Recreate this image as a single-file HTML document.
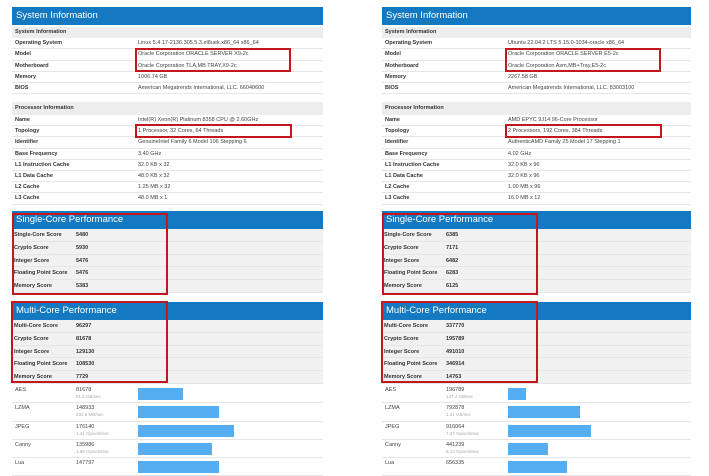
<!DOCTYPE html>
<html><head><meta charset="utf-8"><style>
body{margin:0;width:709px;height:468px;background:#fff;position:relative;overflow:hidden;font-family:"Liberation Sans",sans-serif;}
.a{position:absolute;white-space:nowrap;}
.hdr{background:#1479c1;color:#fff;font-size:9.5px;line-height:18px;padding-left:4px;box-sizing:border-box;}
.sub{background:#ededed;font-size:5.5px;font-weight:bold;color:#333;padding-left:3px;box-sizing:border-box;}
.row{border-bottom:1px solid #e6e6e6;box-sizing:border-box;}
.lb{font-size:5.5px;font-weight:bold;color:#333;}
.vl{font-size:5.5px;color:#444;}
.red{border:2px solid #c4161c;box-sizing:border-box;}
.bar{background:#55aef2;}
.sm{font-size:4.5px;color:#aaa;}
</style></head><body>
<script>
const leftInfo=[["Operating System","Linux 5.4.17-2136.305.5.3.el8uek.x86_64 x86_64"],["Model","Oracle Corporation ORACLE SERVER X9-2c"],["Motherboard","Oracle Corporation TLA,MB TRAY,X9-2c"],["Memory","1006.74 GB"],["BIOS","American Megatrends International, LLC. 66040600"]];
const leftProc=[["Name","Intel(R) Xeon(R) Platinum 8358 CPU @ 2.60GHz"],["Topology","1 Processor, 32 Cores, 64 Threads"],["Identifier","GenuineIntel Family 6 Model 106 Stepping 6"],["Base Frequency","3.40 GHz"],["L1 Instruction Cache","32.0 KB x 32"],["L1 Data Cache","48.0 KB x 32"],["L2 Cache","1.25 MB x 32"],["L3 Cache","48.0 MB x 1"]];
const rightInfo=[["Operating System","Ubuntu 22.04.2 LTS 5.15.0-1034-oracle x86_64"],["Model","Oracle Corporation ORACLE SERVER E5-2c"],["Motherboard","Oracle Corporation Asm,MB+Tray,E5-2c"],["Memory","2267.58 GB"],["BIOS","American Megatrends International, LLC. 83003100"]];
const rightProc=[["Name","AMD EPYC 9J14 96-Core Processor"],["Topology","2 Processors, 192 Cores, 384 Threads"],["Identifier","AuthenticAMD Family 25 Model 17 Stepping 1"],["Base Frequency","4.02 GHz"],["L1 Instruction Cache","32.0 KB x 96"],["L1 Data Cache","32.0 KB x 96"],["L2 Cache","1.00 MB x 96"],["L3 Cache","16.0 MB x 12"]];
const singleLabels=["Single-Core Score","Crypto Score","Integer Score","Floating Point Score","Memory Score"];
const multiLabels=["Multi-Core Score","Crypto Score","Integer Score","Floating Point Score","Memory Score"];
const leftSingle=[5480,5930,5476,5476,5383];
const leftMulti=[96297,81678,129130,108530,7729];
const rightSingle=[6385,7171,6482,6283,6125];
const rightMulti=[337770,195789,491010,346914,14763];
const benchNames=["AES","LZMA","JPEG","Canny","Lua"];
const leftBench=[81678,148933,176140,135986,147797];
const leftRates=["61.5 GB/sec","232.6 MB/sec","1.41 Gpixels/sec","1.89 Gpixels/sec",""];
const rightBench=[196789,792878,916064,441239,656335];
const rightRates=["147.4 GB/sec","1.21 GB/sec","7.37 Gpixels/sec","6.12 Gpixels/sec",""];

function mk(cls,x,y,w,h,txt,name){const d=document.createElement('div');d.className='a '+cls;d.style.left=x+'px';d.style.top=y+'px';if(w)d.style.width=w+'px';if(h){d.style.height=h+'px';d.style.lineHeight=h+'px';}if(txt!==undefined)d.textContent=txt;


document.body.appendChild(d);return d;}
function panel(x0,w,vx,sx,info,proc,single,multi,bench,rates,barMax,side){
 mk('hdr',x0,7,w,18,'System Information',side+'-system-header');
 mk('sub',x0,27,w,11,'System Information',side+'-system-subheader');
 info.forEach((r,i)=>{const y=38+i*11.3;mk('row',x0,y,w,11.3,'',side+'-info-row');mk('lb',x0+3,y,0,11,r[0],side+'-info-label');mk('vl',vx,y,0,11,r[1],side+'-info-value');});
 mk('sub',x0,102,w,13,'Processor Information',side+'-processor-subheader');
 proc.forEach((r,i)=>{const y=115+i*11.2;mk('row',x0,y,w,11.2,'',side+'-proc-row');mk('lb',x0+3,y,0,11,r[0],side+'-proc-label');mk('vl',vx,y,0,11,r[1],side+'-proc-value');});
 mk('red',vx-3,48,156,24,'',side+'-model-highlight');
 mk('red',vx-3,124,157,14,'',side+'-topology-highlight');
 mk('hdr',x0,211,w,18,'Single-Core Performance',side+'-single-header');
 single.forEach((v,i)=>{const y=229+i*12.8;mk('row',x0,y,w,12.8,'',side+'-single-row').style.background='#f1f1f1';mk('lb',x0+2,y,0,12.8,singleLabels[i],side+'-single-label');mk('lb',sx,y,0,12.8,String(v),side+'-single-value');});
 mk('red',x0,213,156,82,'',side+'-single-highlight');
 mk('hdr',x0,302,w,18,'Multi-Core Performance',side+'-multi-header');
 multi.forEach((v,i)=>{const y=320+i*12.8;mk('row',x0,y,w,12.8,'',side+'-multi-row').style.background='#f1f1f1';mk('lb',x0+2,y,0,12.8,multiLabels[i],side+'-multi-label');mk('lb',sx,y,0,12.8,String(v),side+'-multi-value');});
 mk('red',x0-1,301,157,82,'',side+'-multi-highlight');
 const mx=Math.max(...bench);
 bench.forEach((v,i)=>{const y=385+i*18.3;mk('row',x0,y,w,18.3,'',side+'-bench-row');mk('vl',x0+3,y+1,0,8,benchNames[i],side+'-bench-name');mk('vl',sx,y+1,0,8,String(v),side+'-bench-score');mk('sm',sx,y+9,0,6,rates[i],side+'-bench-rate');
  mk('bar',vx,y+3,v/mx*barMax,12,'',side+'-bench-bar');});
}
panel(12,311,138,76,leftInfo,leftProc,leftSingle,leftMulti,leftBench,leftRates,96,'left');
panel(382,309,508,446,rightInfo,rightProc,rightSingle,rightMulti,rightBench,rightRates,83,'right');
</script>
</body></html>
